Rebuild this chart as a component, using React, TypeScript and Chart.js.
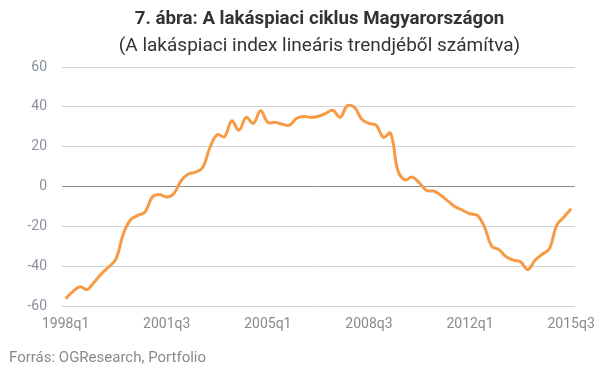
import React, { useEffect, useRef } from "react";
import { Chart, registerables } from "chart.js";

Chart.register(...registerables);

const TITLE = "7. ábra: A lakáspiaci ciklus Magyarországon";
const SUBTITLE = "(A lakáspiaci index lineáris trendjéből számítva)";
const SOURCE = "Forrás: OGResearch, Portfolio";

const START_YEAR = 1998;
const N_QUARTERS = 71; // 1998q1 .. 2015q3
const quarterLabels: string[] = [];
for (let i = 0; i < N_QUARTERS; i++) {
  quarterLabels.push(`${START_YEAR + Math.floor(i / 4)}q${(i % 4) + 1}`);
}
const TICK_EVERY = 14;

const cycleValues = [
  -56.3, -52.8, -50.3, -51.7, -47.8, -43.7, -40.3, -36.2, -23.7, -16.7,
  -14.5, -12.8, -5.3, -4.0, -5.3, -3.5, 3.0, 6.3, 7.2, 9.7,
  19.7, 26.0, 25.0, 33.0, 28.3, 34.7, 31.7, 38.0, 32.2, 32.2,
  31.3, 30.8, 34.3, 35.2, 34.7, 35.3, 36.7, 38.3, 34.7, 40.5,
  39.7, 33.8, 31.7, 30.8, 24.7, 26.7, 8.0, 3.3, 4.7, 1.7,
  -2.0, -2.3, -4.5, -7.5, -10.3, -12.0, -13.7, -14.5, -20.3, -30.0,
  -31.7, -35.3, -37.0, -37.8, -41.7, -37.0, -34.0, -31.2, -19.5, -15.3,
  -11.2,
];

const Y_MIN = -60;
const Y_MAX = 60;
const Y_STEP = 20;

export default function App() {
  const canvasRef = useRef<HTMLCanvasElement | null>(null);

  useEffect(() => {
    document.body.style.margin = "0";
    const canvas = canvasRef.current;
    if (!canvas) return;
    const chart = new Chart(canvas, {
      type: "line",
      data: {
        labels: quarterLabels,
        datasets: [
          {
            data: cycleValues,
            borderColor: "#f79a45",
            borderWidth: 3,
            pointRadius: 0,
            tension: 0.4,
            fill: false,
          },
        ],
      },
      options: {
        animation: false,
        responsive: false,
        maintainAspectRatio: false,
        layout: { padding: { left: 0, right: 28, top: 67, bottom: 40 } },
        plugins: {
          legend: { display: false },
          tooltip: { enabled: false },
          title: { display: false },
        },
        scales: {
          x: {
            type: "category",
            offset: true,
            grid: { display: false, drawTicks: false },
            border: { display: false },
            afterFit: (scale: any) => {
              scale.height = 32;
            },
            ticks: {
              autoSkip: false,
              maxRotation: 0,
              minRotation: 0,
              padding: 10,
              color: "#8a8a8a",
              font: { family: "Roboto", size: 14 },
              callback: (_v: any, index: number) =>
                index % TICK_EVERY === 0 ? quarterLabels[index] : "",
            },
          },
          y: {
            min: Y_MIN,
            max: Y_MAX,
            afterFit: (scale: any) => {
              scale.width = 62;
            },
            border: { display: false },
            grid: {
              drawTicks: false,
              lineWidth: 1,
              color: (ctx: any) =>
                ctx.tick && ctx.tick.value === 0 ? "#8c8c8c" : "#d3d3d3",
            },
            ticks: {
              stepSize: Y_STEP,
              padding: 15,
              color: "#8a919c",
              font: { family: "Roboto", size: 14 },
            },
          },
        },
      },
    });
    return () => chart.destroy();
  }, []);

  return (
    <div
      style={{
        position: "relative",
        width: 605,
        height: 378,
        background: "#fff",
        fontFamily: "Roboto, sans-serif",
      }}
    >
      <canvas
        ref={canvasRef}
        width={605}
        height={378}
        style={{ position: "absolute", left: 0, top: 0, width: 605, height: 378 }}
      />
      <div
        style={{
          position: "absolute",
          left: 62,
          width: 515,
          top: 6,
          textAlign: "center",
          color: "#333",
          fontSize: 18.7,
          fontWeight: 700,
          lineHeight: "24px",
          whiteSpace: "nowrap",
        }}
      >
        {TITLE}
      </div>
      <div
        style={{
          position: "absolute",
          left: 62,
          width: 515,
          top: 33,
          textAlign: "center",
          color: "#333",
          fontSize: 19,
          fontWeight: 400,
          lineHeight: "24px",
          whiteSpace: "nowrap",
        }}
      >
        {SUBTITLE}
      </div>
      <div
        style={{
          position: "absolute",
          left: 9,
          top: 347,
          color: "#8a8a8a",
          fontSize: 15,
          lineHeight: "20px",
          whiteSpace: "nowrap",
        }}
      >
        {SOURCE}
      </div>
    </div>
  );
}
